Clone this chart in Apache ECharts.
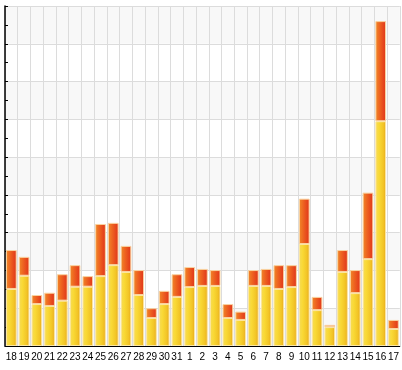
<!DOCTYPE html>
<html><head><meta charset="utf-8">
<script src="https://cdn.jsdelivr.net/npm/echarts@6/dist/echarts.min.js"></script>
<style>html,body{margin:0;padding:0;background:#fff}#c{width:402px;height:370px}</style>
</head><body><div id="c"></div>
<script>
const categories = ['18','19','20','21','22','23','24','25','26','27','28','29','30','31','1','2','3','4','5','6','7','8','9','10','11','12','13','14','15','16','17'];
const baseValues = [1.51,1.86,1.11,1.06,1.20,1.57,1.57,1.85,2.14,1.96,1.35,0.74,1.11,1.30,1.56,1.59,1.59,0.74,0.69,1.59,1.59,1.51,1.56,2.70,0.95,0.50,1.96,1.40,2.30,5.95,0.45];
const totalValues = [2.54,2.36,1.35,1.41,1.90,2.14,1.85,3.23,3.26,2.65,2.01,1.00,1.46,1.90,2.09,2.04,2.01,1.11,0.91,2.01,2.04,2.14,2.14,3.90,1.30,0.56,2.54,2.01,4.06,8.60,0.69];
const topValues = totalValues.map((t,i)=>+(t-baseValues[i]).toFixed(2));

const chart = echarts.init(document.getElementById('c'));
const yellow = new echarts.graphic.LinearGradient(0,0,1,0,[
  {offset:0,color:'#f6dc5a'},{offset:0.35,color:'#f9d935'},{offset:0.75,color:'#f2c426'},{offset:1,color:'#e6a61c'}]);
const red = new echarts.graphic.LinearGradient(0,0,1,0,[
  {offset:0,color:'#f08a2a'},{offset:0.4,color:'#ee6420'},{offset:1,color:'#e0321a'}]);
chart.setOption({
  animation:false,
  grid:{left:5,right:2,top:6,bottom:24},
  xAxis:{type:'category',data:categories,boundaryGap:true,
    axisLine:{lineStyle:{color:'#000',width:1}},
    axisTick:{inside:true,length:4,lineStyle:{color:'#000'}},
    axisLabel:{color:'#000',fontSize:10,fontFamily:'Liberation Sans',margin:6,interval:0},
    splitLine:{show:true,lineStyle:{color:'#dcdcdc'}}},
  yAxis:{type:'value',min:0,max:9,interval:1,
    axisLine:{show:true,lineStyle:{color:'#000',width:1.5}},
    axisTick:{show:true,inside:true,length:3,lineStyle:{color:'#000'}},
    minorTick:{show:true,splitNumber:2,length:3,lineStyle:{color:'#000'}},
    axisLabel:{show:false},
    splitLine:{show:true,lineStyle:{color:'#dcdcdc'}},
    splitArea:{show:true,areaStyle:{color:['#f8f8f8','#ffffff']}}},
  series:[
    {type:'bar',stack:'a',data:baseValues,barWidth:'84%',
      itemStyle:{color:yellow,borderColor:'#fbe6a2',borderWidth:1}},
    {type:'bar',stack:'a',data:topValues,barWidth:'84%',
      itemStyle:{color:red,borderColor:'#f9d3a0',borderWidth:1}}
  ]
});
</script></body></html>
